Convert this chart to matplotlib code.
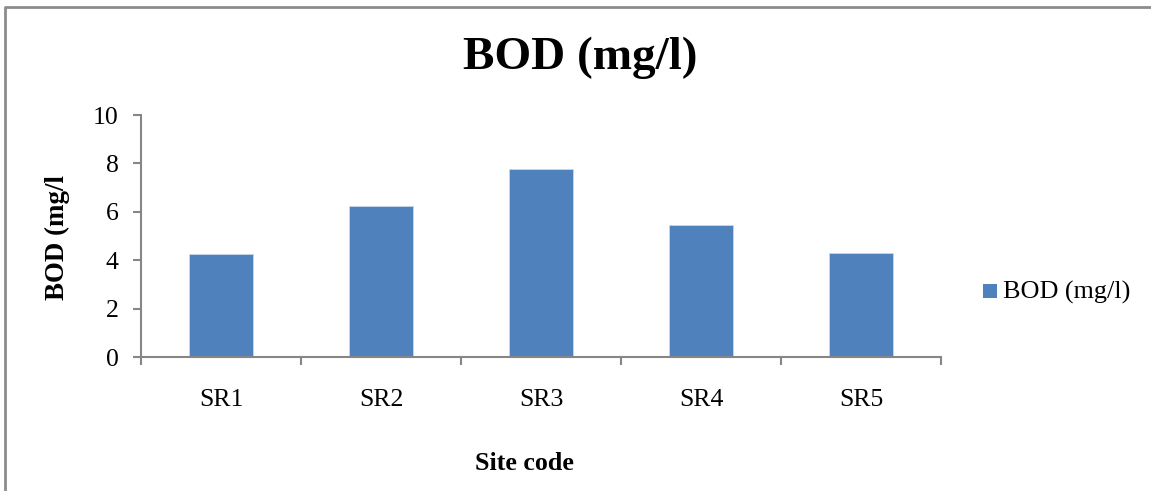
import matplotlib
matplotlib.use("Agg")
import matplotlib.pyplot as plt
from matplotlib.patches import Rectangle
from matplotlib.lines import Line2D

categories = ["SR1", "SR2", "SR3", "SR4", "SR5"]
bod_values = [4.25, 6.25, 7.75, 5.45, 4.3]
yticks = [0, 2, 4, 6, 8, 10]
title = "BOD (mg/l)"
series_name = "BOD (mg/l)"
ylabel = "BOD (mg/l"
xlabel = "Site code"

plt.rcParams['font.family'] = ['Liberation Serif', 'DejaVu Serif']
W, H = 1151, 491
fig = plt.figure(figsize=(W / 100, H / 100), dpi=100)

def fx(px):
    return px / W

def fy(py):
    return 1 - py / H

ax = fig.add_axes([fx(141), fy(357), fx(941) - fx(141), fy(115) - fy(357)])
bar_color = "#4F81BD"
axis_color = "#868686"
x = list(range(len(categories)))
ax.bar(x, bod_values, width=0.4, color=bar_color, edgecolor="#C9D7EA", linewidth=0.6)
ax.set_xlim(-0.5, len(categories) - 0.5)
ax.set_ylim(0, 10)
ax.set_yticks(yticks)
ax.set_yticklabels([str(t) for t in yticks], fontsize=18.5)
ax.set_xticks(x)
ax.set_xticklabels(categories, fontsize=18.5)
ax.set_xticks([i - 0.5 for i in range(len(categories) + 1)], minor=True)
ax.tick_params(axis='x', which='major', length=0, pad=23)
ax.tick_params(axis='x', which='minor', length=6, width=1.5, color=axis_color, direction='out')
ax.tick_params(axis='y', length=6, width=1.5, color=axis_color, direction='out', pad=10)
for s in ["top", "right"]:
    ax.spines[s].set_visible(False)
for s in ["left", "bottom"]:
    ax.spines[s].set_color(axis_color)
    ax.spines[s].set_linewidth(1.5)

fig.text(fx(580), fy(58), title, fontsize=34, fontweight='bold', ha='center', va='center')
fig.text(fx(57), fy(238), ylabel, fontsize=19.4, fontweight='bold', rotation=90, ha='center', va='center')
fig.text(fx(524), fy(464), xlabel, fontsize=18.7, fontweight='bold', ha='center', va='center')

# legend
fig.patches.append(Rectangle((fx(983), fy(298)), fx(14), fy(284) - fy(298), transform=fig.transFigure,
                             facecolor=bar_color, edgecolor='none'))
fig.text(fx(1003), fy(292), series_name, fontsize=18.8, ha='left', va='center')

# outer border
fig.lines.append(Line2D([fx(5), fx(5), fx(1151)], [0, fy(7), fy(7)], transform=fig.transFigure,
                        color="#8C8C8C", linewidth=2))

fig.savefig("out.png", dpi=100)
